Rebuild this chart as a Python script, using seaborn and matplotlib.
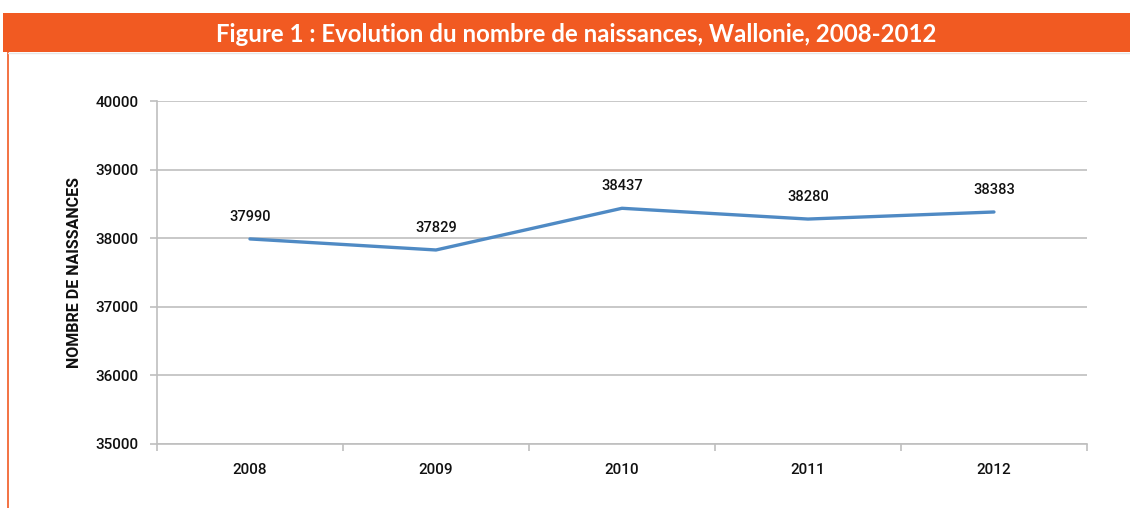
"""Evolution du nombre de naissances en Wallonie, 2008-2012."""

import matplotlib

matplotlib.use("Agg")
import matplotlib.pyplot as plt
import pandas as pd
import seaborn as sns
from matplotlib.patches import Rectangle
from matplotlib.lines import Line2D

years = ["2008", "2009", "2010", "2011", "2012"]
births = [37990, 37829, 38437, 38280, 38383]
y_ticks = [35000, 36000, 37000, 38000, 39000, 40000]

title = "Figure 1 : Evolution du nombre de naissances, Wallonie, 2008-2012"
y_label = "NOMBRE DE NAISSANCES"

ORANGE = "#F15A22"
LINE = "#4F8AC4"
GRID = "#BFBFBF"
TEXT = "#111111"
NARROW = ["Roboto", "DejaVu Sans"]

sns.set_theme(style="white")
plt.rcParams["font.family"] = NARROW
plt.rcParams["font.weight"] = 500

data = pd.DataFrame({"year": years, "births": births})
data["pos"] = range(len(years))

fig = plt.figure(figsize=(11.3, 5.08), dpi=100)
ax = fig.add_axes([0.1389, 0.126, 0.823, 0.675])

sns.lineplot(data=data, x="pos", y="births", color=LINE, linewidth=2.4, ax=ax)

# Etiquettes de valeurs au-dessus des points
for pos, value in zip(data["pos"], data["births"]):
    ax.annotate(f"{value}", (pos, value), xytext=(0, 11), textcoords="offset points",
                ha="center", va="bottom", fontsize=10.5, color=TEXT, fontweight=500)

ax.set_xlim(-0.5, len(years) - 0.5)
ax.set_ylim(y_ticks[0], y_ticks[-1])
ax.set_yticks(y_ticks)
ax.set_yticklabels([str(t) for t in y_ticks])
ax.set_xticks(data["pos"])
ax.set_xticklabels(years)
ax.set_xticks([i - 0.5 for i in range(len(years) + 1)], minor=True)
ax.tick_params(axis="x", which="major", length=0, pad=14, labelsize=11, labelcolor=TEXT)
ax.tick_params(axis="x", which="minor", length=5, width=1.2, color=GRID, direction="out", bottom=True)
ax.tick_params(axis="y", length=5, width=1.2, color=GRID, direction="out", left=True,
               pad=8, labelsize=11, labelcolor=TEXT)
ax.yaxis.grid(True, color=GRID, linewidth=1.2)
ax.xaxis.grid(False)
ax.set_axisbelow(True)
for side in ("top", "right"):
    ax.spines[side].set_visible(False)
for side in ("left", "bottom"):
    ax.spines[side].set_color(GRID)
    ax.spines[side].set_linewidth(1.2)
ax.set_xlabel("")
ax.set_ylabel(y_label, fontsize=11.5, color=TEXT, fontweight="bold", labelpad=10)

# Bandeau orange du titre et filet vertical à gauche
fig.patches.append(Rectangle((3 / 1130, 1 - 52 / 508), 1, 39 / 508, transform=fig.transFigure,
                             facecolor=ORANGE, edgecolor="none", zorder=0))
fig.lines.append(Line2D([8 / 1130, 8 / 1130], [0, 1 - 52 / 508], transform=fig.transFigure,
                        color=ORANGE, linewidth=1.2))
fig.lines.append(Line2D([8 / 1130, 1], [1 - 53 / 508, 1 - 53 / 508], transform=fig.transFigure,
                        color="#E6E6E6", linewidth=1.0))
fig.text(576 / 1130, 1 - 34 / 508, title, ha="center", va="center", color="white",
         fontsize=17.3, fontweight="bold", family=["Lato", "DejaVu Sans"])

fig.savefig("out.png", dpi=100)
